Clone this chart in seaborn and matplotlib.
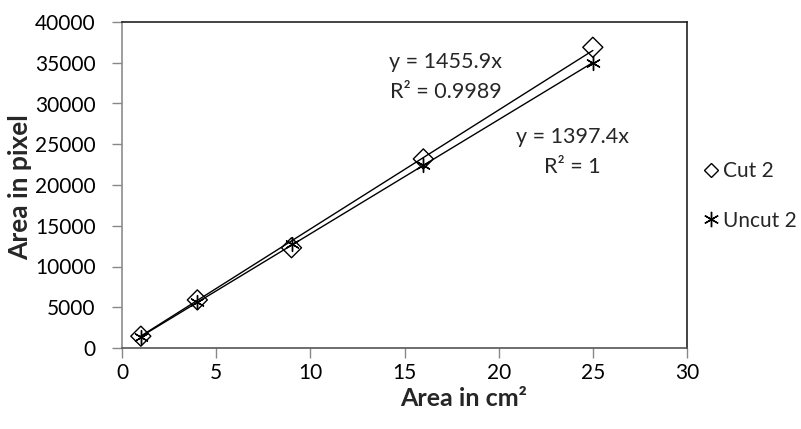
import numpy as np
import matplotlib
matplotlib.use("Agg")
import matplotlib.pyplot as plt
import seaborn as sns
from matplotlib.lines import Line2D

x_vals = [1, 4, 9, 16, 25]
cut2 = [1450, 5900, 12300, 23200, 36900]
uncut2 = [1400, 5600, 12700, 22400, 35000]
series_names = ["Cut 2", "Uncut 2"]
x_ticks = [0, 5, 10, 15, 20, 25, 30]
y_ticks = [0, 5000, 10000, 15000, 20000, 25000, 30000, 35000, 40000]
eq_cut = ["y = 1455.9x", "R² = 0.9989"]
eq_uncut = ["y = 1397.4x", "R² = 1"]

sns.set_style("white")
plt.rcParams['font.family'] = ['Lato', 'DejaVu Sans']

fig = plt.figure(figsize=(8.01, 4.29), dpi=100)
ax = fig.add_axes([122/801, 81/429, 565/801, 326/429])

asterisk = (6, 2, 0)
sns.scatterplot(x=x_vals, y=cut2, marker="D", s=104, facecolor="none",
                edgecolor="black", linewidth=1.0, ax=ax, zorder=3)
sns.scatterplot(x=x_vals, y=uncut2, marker=asterisk, s=100, color="black",
                linewidth=1.0, ax=ax, zorder=3)

# trendlines through origin (least squares, intercept 0)
xs = np.array(x_vals, dtype=float)
for vals in (cut2, uncut2):
    ys = np.array(vals, dtype=float)
    slope = (xs * ys).sum() / (xs * xs).sum()
    xl = np.array([xs.min(), xs.max()])
    ax.plot(xl, slope * xl, color="black", lw=1.0, zorder=2)

ax.set_xlim(0, 30)
ax.set_ylim(0, 40000)
ax.set_xticks(x_ticks)
ax.set_yticks(y_ticks)
ax.tick_params(axis="both", direction="out", length=7, width=1.0,
               labelsize=15, labelcolor="black", color="#888888",
               bottom=True, left=True)
ax.tick_params(axis="y", pad=12)
ax.tick_params(axis="x", pad=4)
for s in ax.spines.values():
    s.set_visible(True)
    s.set_linewidth(1.2)
ax.spines["left"].set_color("#8c8c8c")
ax.spines["bottom"].set_color("#555555")
ax.spines["top"].set_color("#222222")
ax.spines["right"].set_color("#222222")

ax.set_xlabel("Area in cm²", fontsize=18, fontweight="bold", va="center", ha="center")
ax.set_ylabel("Area in pixel", fontsize=19, fontweight="bold", va="center", ha="center")
ax.xaxis.set_label_coords((464 - 122) / 565, (348 - 398) / 326)
ax.yaxis.set_label_coords(-(122 - 20) / 565, (348 - 187) / 326)

ax.text(17.2, 35100, eq_cut[0], fontsize=15.5, ha="center", va="center")
ax.text(17.2, 31400, eq_cut[1], fontsize=15.5, ha="center", va="center")
ax.text(23.9, 25900, eq_uncut[0], fontsize=15.5, ha="center", va="center")
ax.text(23.9, 22200, eq_uncut[1], fontsize=15.5, ha="center", va="center")

handles = [
    Line2D([], [], marker="D", markersize=7, markerfacecolor="none",
           markeredgecolor="black", markeredgewidth=1.0, linestyle="none"),
    Line2D([], [], marker=asterisk, markersize=11, color="black",
           markeredgewidth=1.0, linestyle="none"),
]
fig.legend(handles, series_names, loc="center left",
           bbox_to_anchor=(705/801, 1 - 196/429),
           frameon=False, fontsize=15, handletextpad=0.28, labelspacing=1.4,
           handlelength=0.6, borderpad=0, borderaxespad=0)

fig.savefig("out.png", dpi=100)
